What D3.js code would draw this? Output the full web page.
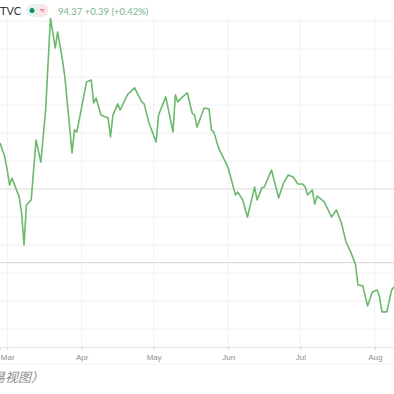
<!DOCTYPE html>
<html>
<head>
<meta charset="utf-8">
<script src="https://cdn.jsdelivr.net/npm/d3@7"></script>
<style>
  body { margin: 0; background: #fff; }
  svg { display: block; font-family: Lato, "Open Sans", sans-serif; }
</style>
</head>
<body>
<div id="chart-area"></div>
<script>
// daily close
var dates = ["2020-02-27","2020-02-29","2020-03-01","2020-03-02","2020-03-03","2020-03-06","2020-03-07","2020-03-08","2020-03-09","2020-03-11",
  "2020-03-13","2020-03-15","2020-03-17","2020-03-19","2020-03-21","2020-03-22","2020-03-24","2020-03-25","2020-03-28","2020-03-29",
  "2020-03-30","2020-04-03","2020-04-05","2020-04-06","2020-04-07","2020-04-09","2020-04-11","2020-04-12","2020-04-13","2020-04-14",
  "2020-04-16","2020-04-17","2020-04-20","2020-04-23","2020-04-26","2020-04-27","2020-04-29","2020-05-02","2020-05-03","2020-05-06",
  "2020-05-09","2020-05-10","2020-05-11","2020-05-13","2020-05-15","2020-05-17","2020-05-18","2020-05-19","2020-05-22","2020-05-24",
  "2020-05-25","2020-05-26","2020-05-28","2020-05-31","2020-06-01","2020-06-04","2020-06-05","2020-06-07","2020-06-09","2020-06-12",
  "2020-06-13","2020-06-15","2020-06-16","2020-06-19","2020-06-22","2020-06-24","2020-06-26","2020-06-28","2020-06-30","2020-07-02",
  "2020-07-03","2020-07-04","2020-07-06","2020-07-07","2020-07-08","2020-07-11","2020-07-14","2020-07-16","2020-07-18","2020-07-20",
  "2020-07-22","2020-07-24","2020-07-25","2020-07-27","2020-07-29","2020-07-31","2020-08-02","2020-08-03","2020-08-04","2020-08-06",
  "2020-08-08","2020-08-09","2020-08-10"];
var closes = [98.64,98.14,97.68,97.14,97.39,96.71,96.14,95.00,96.43,96.61,
  98.75,97.96,99.82,103.11,102.04,102.61,101.61,101.00,98.29,99.11,
  99.04,100.82,100.89,100.07,100.25,99.64,99.57,99.54,98.86,99.64,
  100.04,99.82,100.36,100.61,100.11,100.04,99.36,98.68,99.64,100.29,
  99.04,100.36,100.11,100.29,100.43,99.71,99.64,99.21,99.89,99.86,
  99.11,99.04,98.46,97.93,97.75,96.79,96.89,96.61,96.00,97.07,
  96.61,97.04,97.07,97.68,96.68,97.21,97.50,97.43,97.18,97.18,
  97.07,96.79,96.96,96.46,96.75,96.54,96.00,96.25,95.82,95.11,
  94.75,94.29,93.57,93.54,92.82,93.32,93.39,93.14,92.61,92.61,
  93.39,93.50,93.60];
var priceTicks = [103,102,101,100,99,98,97,96,95,94,93,92];
var lastPrice = 94.37;
var header = "94.37  +0.39  (+0.42%)";

var width = 394, height = 394;
var parse = d3.timeParse("%Y-%m-%d");
var data = dates.map(function(d, i) { return { date: parse(d), close: closes[i] }; });

var svg = d3.select("#chart-area")
  .append("svg")
  .attr("width", width)
  .attr("height", height);

var x = d3.scaleTime()
  .domain([parse("2020-02-27"), parse("2020-08-09")])
  .range([0, 394]);

var y = d3.scaleLinear()
  .domain([103, 92])
  .range([21, 329]);

var gridTop = 18, axisY = 347;

// horizontal grid
svg.append("g").selectAll("line")
  .data(priceTicks)
  .enter().append("line")
  .attr("x1", 0).attr("x2", width)
  .attr("y1", function(d) { return y(d); })
  .attr("y2", function(d) { return y(d); })
  .attr("stroke", function(d) { return d === 97 ? "#d9d9d9" : "#eef0f3"; })
  .attr("stroke-width", 1);

// vertical grid at month starts
var months = x.ticks(d3.timeMonth);
svg.append("g").selectAll("line")
  .data(months)
  .enter().append("line")
  .attr("x1", function(d) { return x(d); })
  .attr("x2", function(d) { return x(d); })
  .attr("y1", gridTop).attr("y2", axisY)
  .attr("stroke", "#eef0f3")
  .attr("stroke-width", 1);

// last price line
svg.append("line")
  .attr("x1", 0).attr("x2", width)
  .attr("y1", y(lastPrice)).attr("y2", y(lastPrice))
  .attr("stroke", "#d6d6d6")
  .attr("stroke-width", 1);

var line = d3.line()
  .x(function(d) { return x(d.date); })
  .y(function(d) { return y(d.close); });

svg.append("path")
  .datum(data)
  .attr("fill", "none")
  .attr("stroke", "#6cb86c")
  .attr("stroke-width", 1.6)
  .attr("stroke-linejoin", "round")
  .attr("d", line);

// time axis
var xAxis = svg.append("g")
  .attr("transform", "translate(0," + axisY + ")")
  .call(d3.axisBottom(x)
    .ticks(d3.timeMonth)
    .tickFormat(d3.timeFormat("%b"))
    .tickSize(3)
    .tickPadding(4));
xAxis.select(".domain").attr("stroke", "#e0e3eb");
xAxis.selectAll(".tick line").attr("stroke", "#d0d3da");
xAxis.selectAll(".tick text")
  .attr("fill", "#8a8d96")
  .attr("font-size", "8px");

svg.append("line")
  .attr("x1", 0).attr("x2", width)
  .attr("y1", 364).attr("y2", 364)
  .attr("stroke", "#f3f4f6");

// header
svg.append("rect")
  .attr("x", 0).attr("y", 0)
  .attr("width", 140).attr("height", gridTop)
  .attr("fill", "#fff");

svg.append("text")
  .attr("x", 0).attr("y", 15)
  .attr("font-size", "11px")
  .attr("fill", "#333")
  .text("TVC");

svg.append("rect")
  .attr("x", 26).attr("y", 4)
  .attr("width", 22).attr("height", 13)
  .attr("rx", 6.5)
  .attr("fill", "#e3f3ee");
svg.append("rect")
  .attr("x", 37).attr("y", 4)
  .attr("width", 11).attr("height", 13)
  .attr("rx", 5)
  .attr("fill", "#fde6ea");
svg.append("circle")
  .attr("cx", 32).attr("cy", 10.5)
  .attr("r", 2.5)
  .attr("fill", "#138a6a");
svg.append("text")
  .attr("x", 42.5).attr("y", 14)
  .attr("text-anchor", "middle")
  .attr("font-size", "10px")
  .attr("fill", "#e8546c")
  .text("≈");

svg.append("text")
  .attr("x", 58).attr("y", 14.5)
  .attr("font-size", "9.5px")
  .attr("fill", "#77b68a")
  .text(header);

// caption, cut off at the left edge
svg.append("text")
  .attr("x", 44).attr("y", 382)
  .attr("text-anchor", "end")
  .attr("font-size", "13px")
  .attr("font-style", "italic")
  .attr("font-family", "'Noto Sans CJK SC', sans-serif")
  .attr("fill", "#8c8c8c")
  .text("（点击看交易视图）");
</script>
</body>
</html>
